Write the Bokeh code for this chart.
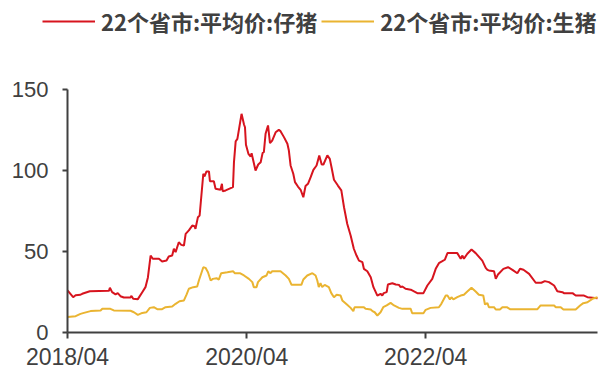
import pandas as pd
from bokeh.plotting import figure
from bokeh.models import (Range1d, FixedTicker, DatetimeTickFormatter, Legend,
                          LegendItem, ColumnDataSource)
from bokeh.embed import file_html
from bokeh.resources import INLINE

# 22个省市:平均价:仔猪 (元/公斤)
piglet_dates = [
    "2018-04-01", "2018-04-24", "2018-05-04", "2018-05-24", "2018-05-31", "2018-07-01",
    "2018-09-17", "2018-09-21", "2018-09-30", "2018-10-14", "2018-10-23", "2018-11-03",
    "2018-11-17", "2018-12-14", "2018-12-18", "2018-12-25", "2019-01-13", "2019-01-31",
    "2019-02-13", "2019-02-23", "2019-03-06", "2019-03-15", "2019-04-09", "2019-04-22",
    "2019-05-10", "2019-05-19", "2019-06-02", "2019-06-09", "2019-06-16", "2019-06-29",
    "2019-07-09", "2019-07-20", "2019-07-27", "2019-08-09", "2019-08-23", "2019-09-01",
    "2019-09-05", "2019-09-15", "2019-09-22", "2019-10-07", "2019-10-12", "2019-10-20",
    "2019-10-30", "2019-11-03", "2019-11-19", "2019-11-26", "2019-12-16", "2019-12-22",
    "2019-12-25", "2020-01-06", "2020-02-05", "2020-02-09", "2020-02-16", "2020-02-23",
    "2020-03-11", "2020-03-21", "2020-03-25", "2020-03-29", "2020-04-08", "2020-04-17",
    "2020-04-21", "2020-05-07", "2020-05-18", "2020-05-28", "2020-06-05", "2020-06-10",
    "2020-06-17", "2020-06-27", "2020-07-05", "2020-07-14", "2020-07-28", "2020-08-10",
    "2020-08-17", "2020-08-31", "2020-09-14", "2020-09-20", "2020-09-27", "2020-10-08",
    "2020-10-15", "2020-10-27", "2020-11-07", "2020-11-18", "2020-11-27", "2020-12-07",
    "2020-12-18", "2020-12-29", "2021-01-11", "2021-01-22", "2021-02-01", "2021-02-08",
    "2021-02-24", "2021-03-06", "2021-03-13", "2021-03-23", "2021-04-08", "2021-04-22",
    "2021-05-03", "2021-05-16", "2021-05-30", "2021-06-12", "2021-06-23", "2021-07-03",
    "2021-07-17", "2021-07-23", "2021-08-06", "2021-08-20", "2021-08-31", "2021-09-16",
    "2021-09-29", "2021-10-06", "2021-10-12", "2021-10-24", "2021-10-29", "2021-11-16",
    "2021-11-30", "2021-12-13", "2021-12-20", "2021-12-27", "2022-01-09", "2022-01-30",
    "2022-02-26", "2022-03-23", "2022-04-08", "2022-04-28", "2022-05-12", "2022-05-25",
    "2022-06-08", "2022-06-18", "2022-06-29", "2022-08-08", "2022-08-22", "2022-08-29",
    "2022-09-04", "2022-09-18", "2022-10-05", "2022-10-22", "2022-11-18", "2022-12-02",
    "2022-12-09", "2022-12-15", "2023-01-05", "2023-01-12", "2023-01-21", "2023-02-12",
    "2023-03-03", "2023-03-21", "2023-04-10", "2023-04-21", "2023-05-05", "2023-05-28",
    "2023-06-24", "2023-07-17", "2023-07-31", "2023-08-17", "2023-09-07", "2023-09-20",
    "2023-10-11", "2023-10-17", "2023-11-21", "2023-12-04", "2024-01-07", "2024-01-21",
    "2024-03-02",
]
piglet_price = [
    26.0, 21.8, 23.0, 23.3, 23.9, 25.5,
    25.7, 27.6, 24.9, 23.5, 24.3, 22.4,
    21.6, 21.6, 22.6, 20.8, 20.6, 24.9,
    28.0, 34.0, 47.5, 45.5, 45.5, 43.8,
    44.4, 46.9, 47.5, 51.7, 49.6, 55.7,
    54.1, 53.7, 60.9, 63.0, 66.0, 65.6,
    64.0, 71.2, 72.2, 98.0, 96.3, 99.4,
    99.4, 93.4, 93.4, 88.7, 88.1, 91.8,
    87.2, 87.7, 89.7, 105.0, 118.0, 119.5,
    135.0, 128.4, 126.7, 115.9, 110.3, 108.6,
    110.7, 100.0, 103.7, 105.1, 110.9, 111.3,
    122.7, 127.8, 116.9, 118.5, 123.6, 125.1,
    124.3, 120.6, 116.5, 112.3, 103.1, 98.0,
    92.8, 90.1, 88.1, 83.5, 90.4, 91.8,
    95.9, 100.4, 103.1, 109.3, 103.7, 103.7,
    109.3, 107.2, 102.0, 94.3, 90.7, 87.7,
    77.3, 67.1, 59.9, 51.7, 47.5, 44.4,
    43.4, 39.3, 37.8, 34.1, 28.0, 22.8,
    23.9, 22.8, 24.3, 24.9, 29.6, 30.4,
    29.6, 29.4, 28.0, 28.4, 27.0, 26.4,
    24.3, 24.3, 29.0, 33.1, 39.3, 42.8,
    44.0, 44.9, 49.0, 49.0, 45.5, 47.5,
    45.5, 48.6, 51.2, 49.0, 44.4, 39.9,
    38.7, 38.3, 37.8, 33.1, 35.8, 39.3,
    40.3, 38.7, 36.6, 39.3, 38.7, 36.2,
    30.7, 30.7, 31.7, 31.1, 29.0, 25.5,
    24.9, 24.3, 24.3, 22.8, 22.8, 21.8,
    21.2,
]

# 22个省市:平均价:生猪 (元/公斤)
hog_dates = [
    "2018-04-01", "2018-05-04", "2018-05-24", "2018-06-07", "2018-07-04", "2018-08-14",
    "2018-08-21", "2018-09-23", "2018-10-07", "2018-12-14", "2018-12-28", "2019-01-13",
    "2019-01-31", "2019-02-17", "2019-03-03", "2019-03-19", "2019-04-02", "2019-04-22",
    "2019-05-06", "2019-06-02", "2019-06-16", "2019-07-02", "2019-07-20", "2019-07-31",
    "2019-08-09", "2019-08-27", "2019-09-12", "2019-09-19", "2019-10-07", "2019-10-16",
    "2019-10-26", "2019-11-06", "2019-11-15", "2019-11-30", "2019-12-09", "2019-12-19",
    "2020-01-13", "2020-02-06", "2020-02-12", "2020-03-04", "2020-03-21", "2020-04-10",
    "2020-04-24", "2020-04-30", "2020-05-11", "2020-05-17", "2020-06-04", "2020-06-21",
    "2020-06-28", "2020-07-07", "2020-07-14", "2020-08-17", "2020-09-07", "2020-09-20",
    "2020-10-01", "2020-11-10", "2020-11-18", "2020-12-04", "2020-12-25", "2021-01-07",
    "2021-01-14", "2021-01-20", "2021-01-27", "2021-02-03", "2021-02-13", "2021-03-02",
    "2021-03-12", "2021-03-23", "2021-04-03", "2021-04-19", "2021-04-26", "2021-05-16",
    "2021-05-30", "2021-06-10", "2021-06-15", "2021-07-23", "2021-07-30", "2021-08-20",
    "2021-08-27", "2021-09-05", "2021-09-16", "2021-09-29", "2021-10-10", "2021-10-24",
    "2021-11-09", "2021-11-23", "2021-12-13", "2021-12-27", "2022-01-30", "2022-02-05",
    "2022-03-23", "2022-04-01", "2022-04-21", "2022-05-25", "2022-06-04", "2022-06-22",
    "2022-06-29", "2022-07-09", "2022-07-15", "2022-07-23", "2022-08-08", "2022-08-22",
    "2022-09-04", "2022-09-18", "2022-10-05", "2022-10-22", "2022-11-04", "2022-11-22",
    "2022-11-29", "2022-12-09", "2022-12-15", "2023-01-05", "2023-01-12", "2023-01-29",
    "2023-02-08", "2023-02-26", "2023-03-11", "2023-07-01", "2023-07-14", "2023-09-07",
    "2023-09-14", "2023-10-04", "2023-10-15", "2023-12-04", "2023-12-22", "2024-01-04",
    "2024-01-21", "2024-02-10", "2024-03-02",
]
hog_price = [
    9.5, 10.1, 11.5, 12.1, 13.2, 13.6,
    14.6, 14.6, 13.6, 13.4, 12.5, 10.9,
    12.1, 12.5, 15.2, 15.6, 14.4, 14.4,
    15.6, 16.0, 17.7, 19.3, 19.8, 23.5,
    27.0, 28.0, 28.4, 32.1, 40.3, 39.9,
    37.2, 32.1, 33.1, 33.5, 32.7, 36.6,
    37.2, 37.8, 36.6, 36.6, 35.2, 33.1,
    31.1, 28.0, 28.0, 31.1, 34.1, 35.2,
    37.8, 36.6, 37.8, 37.8, 35.2, 33.1,
    29.4, 29.4, 32.7, 35.2, 36.6, 35.2,
    32.1, 28.0, 30.4, 28.0, 29.4, 28.0,
    24.3, 21.8, 23.3, 22.8, 19.8, 17.1,
    15.2, 13.2, 15.6, 15.6, 14.6, 14.2,
    13.2, 12.5, 10.5, 12.5, 15.6, 16.7,
    18.3, 16.7, 15.2, 14.6, 14.6, 11.9,
    11.9, 14.0, 15.2, 15.6, 17.7, 22.8,
    22.8, 20.4, 21.8, 20.4, 21.8, 22.8,
    23.3, 25.3, 27.6, 25.3, 23.3, 22.8,
    17.3, 18.1, 15.6, 15.6, 14.2, 14.2,
    15.6, 15.6, 14.4, 14.4, 16.7, 16.7,
    15.6, 15.6, 14.2, 14.2, 16.7, 18.1,
    18.7, 20.8, 21.8,
]

series_labels = ["22个省市:平均价:仔猪", "22个省市:平均价:生猪"]
x_tick_dates = ["2018-04-01", "2020-04-01", "2022-04-01"]
y_ticks = [0, 50, 100, 150]
x_start, x_end = "2018-04-01", "2024-03-02"
y_start, y_end = 0, 150

RED = "#D7141E"
GOLD = "#EAB431"
INK = "#404040"

W, H = 608, 370
# pixel box of the axes inside the canvas (left, right, top, bottom)
AX_L, AX_R, AX_T, AX_B = 67, 597, 89, 332


def to_ms(s):
    return pd.Timestamp(s).value / 1e6


# the frame fills the whole canvas; both axes are pinned inside it at the
# data origin so the legend row and the tick labels have room around them
t0, t1 = to_ms(x_start), to_ms(x_end)
ms_per_px = (t1 - t0) / (AX_R - AX_L)
u_per_px = (y_end - y_start) / (AX_B - AX_T)
xr = Range1d(t0 - AX_L * ms_per_px, t1 + (W - AX_R) * ms_per_px)
yr = Range1d(y_start - (H - AX_B) * u_per_px, y_start + AX_B * u_per_px)

p = figure(width=W, height=H, x_axis_type="datetime",
           output_backend="svg", toolbar_location=None,
           x_range=xr, y_range=yr, min_border=0)
p.outline_line_color = None
p.xgrid.visible = False
p.ygrid.visible = False

src_piglet = ColumnDataSource(dict(x=pd.to_datetime(piglet_dates), y=piglet_price))
src_hog = ColumnDataSource(dict(x=pd.to_datetime(hog_dates), y=hog_price))
r_piglet = p.line("x", "y", source=src_piglet, color=RED, line_width=2)
r_hog = p.line("x", "y", source=src_hog, color=GOLD, line_width=2)

for ax in (p.xaxis[0], p.yaxis[0]):
    ax.axis_line_color = INK
    ax.axis_line_width = 2
    ax.major_tick_line_color = INK
    ax.major_tick_line_width = 2
    ax.minor_tick_line_color = None
    ax.major_tick_in = 0
    ax.major_label_text_color = INK
    ax.major_label_text_font = "Liberation Sans"

p.yaxis.fixed_location = t0
p.yaxis.bounds = (y_start, y_end)
p.yaxis.ticker = FixedTicker(ticks=y_ticks)
p.yaxis.major_tick_out = 5
p.yaxis.major_label_standoff = 14
p.yaxis.major_label_text_font_size = "22px"

p.xaxis.fixed_location = y_start
p.xaxis.bounds = (t0, t1)
p.xaxis.ticker = FixedTicker(ticks=[to_ms(d) for d in x_tick_dates])
fmt = "%Y/%m"
p.xaxis.formatter = DatetimeTickFormatter(
    years=fmt, months=fmt, days=fmt, hours=fmt, minutes=fmt,
    seconds=fmt, milliseconds=fmt, microseconds=fmt)
p.xaxis.major_tick_out = 6
p.xaxis.major_label_standoff = 5
p.xaxis.major_label_text_font_size = "23px"

legend = Legend(items=[LegendItem(label=series_labels[0], renderers=[r_piglet]),
                       LegendItem(label=series_labels[1], renderers=[r_hog])],
                orientation="horizontal", location=(42, H - 37),
                padding=0, margin=0, spacing=4, label_standoff=6,
                glyph_width=53, glyph_height=24, label_height=24,
                border_line_color=None, background_fill_alpha=0,
                label_text_font="Noto Sans CJK SC", label_text_font_size="22px",
                label_text_font_style="bold", label_text_color=INK)
p.add_layout(legend, "center")

open("out.html", "w").write(file_html(p, INLINE))
